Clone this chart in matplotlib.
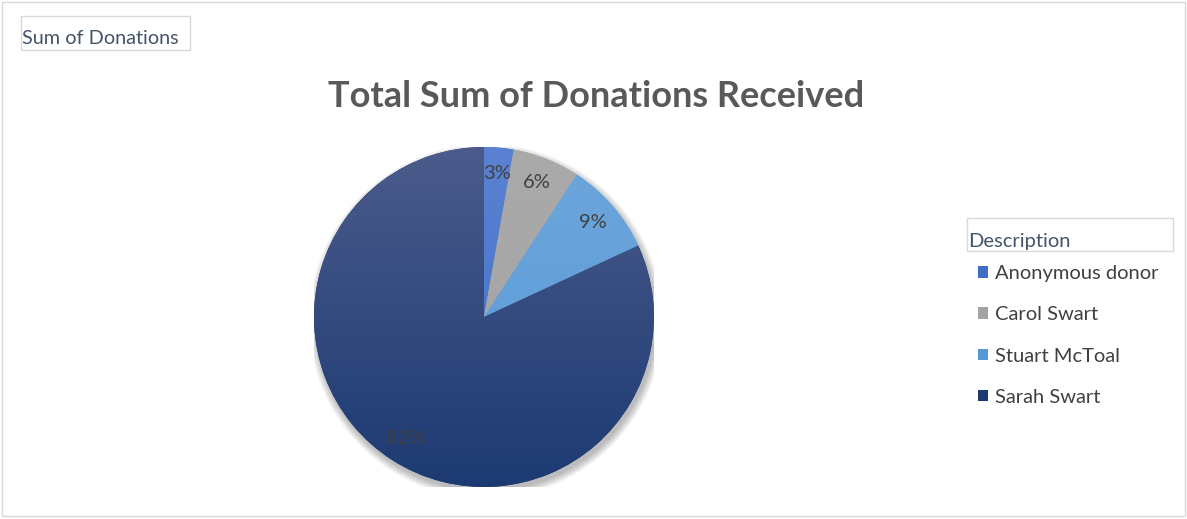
import matplotlib.pyplot as plt
import numpy as np
from matplotlib.patches import Patch, Circle, Rectangle
from matplotlib.colors import to_rgb

donors = ['Anonymous donor', 'Carol Swart', 'Stuart McToal', 'Sarah Swart']
shares = [2.8, 6.4, 8.9, 81.9]
# top / bottom colours of each slice gradient
top_colors = ['#5B82D2', '#AAAAAA', '#6DA6DC', '#4B5B8B']
bottom_colors = ['#3F6EC6', '#A3A3A3', '#5898D6', '#1C3A72']

plt.rcParams['font.family'] = ['Lato', 'DejaVu Sans']

fig = plt.figure(figsize=(11.87, 5.19), dpi=100)
fig.patches.append(Rectangle((0.002, 0.006), 0.996, 0.99, transform=fig.transFigure,
                             fill=False, edgecolor='#D9D9D9', linewidth=1))

ax = fig.add_axes([0.2645, 0.0617, 0.2864, 0.6551])

# soft shadow under the pie
for i in range(8):
    ax.add_patch(Circle((0.012, -0.025), 1.0 + 0.006 * i, color='black',
                        alpha=0.035, zorder=0, linewidth=0))

wedges, texts, autotexts = ax.pie(shares, colors=bottom_colors, startangle=90,
                                  counterclock=False, autopct='%.0f%%',
                                  pctdistance=0.85, radius=1,
                                  textprops={'color': '#404040', 'fontsize': 14.5})

for w, c1, c2 in zip(wedges, top_colors, bottom_colors):
    t = np.linspace(0, 1, 256)[:, None]
    grad = (1 - t) * np.array(to_rgb(c1)) + t * np.array(to_rgb(c2))
    im = ax.imshow(grad[:, None, :].repeat(2, axis=1), extent=(-1, 1, -1, 1),
                   aspect='auto', zorder=1.5)
    im.set_clip_path(w)

ax.set_xlim(-1, 1)
ax.set_ylim(-1, 1)
ax.set_aspect('equal')
ax.axis('off')

fig.text(0.502, 0.814, 'Total Sum of Donations Received', ha='center', va='center',
         fontsize=26, fontweight='bold', color='#595959')

# "Sum of Donations" field button
fig.patches.append(Rectangle((0.0177, 0.9037), 0.1424, 0.0655, transform=fig.transFigure,
                             facecolor='white', edgecolor='#D9D9D9', linewidth=1))
fig.text(0.0185, 0.926, 'Sum of Donations', ha='left', va='center', fontsize=14.3,
         color='#44546A')

# "Description" field button
fig.patches.append(Rectangle((0.8147, 0.5164), 0.1735, 0.0636, transform=fig.transFigure,
                             facecolor='white', edgecolor='#D9D9D9', linewidth=1))
fig.text(0.8155, 0.535, 'Description', ha='left', va='center', fontsize=14.5,
         color='#44546A')

handles = [Patch(facecolor=c, edgecolor='none') for c in bottom_colors]
fig.legend(handles, donors, loc='upper left', bbox_to_anchor=(0.824, 0.489),
           frameon=False, fontsize=14.5, labelcolor='#404040', handlelength=0.5,
           handleheight=0.5, handletextpad=0.35, labelspacing=1.2,
           borderpad=0, borderaxespad=0)

fig.savefig('out.png', dpi=100)
